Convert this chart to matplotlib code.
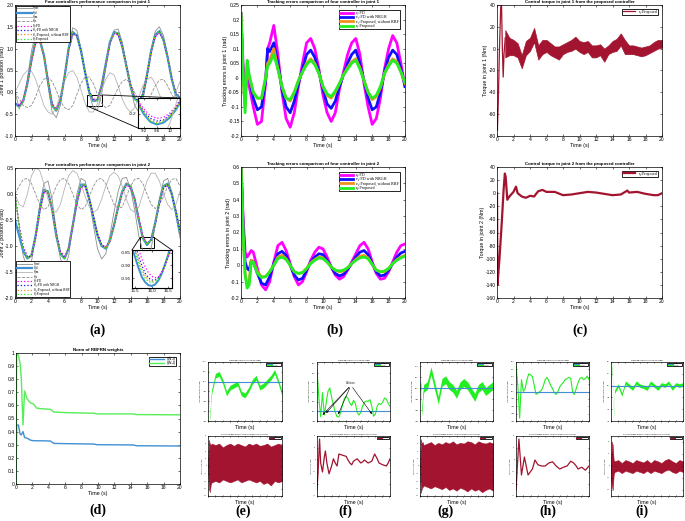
import numpy as np
import matplotlib
matplotlib.use("Agg")
import matplotlib.pyplot as plt
from matplotlib.patches import Rectangle, ConnectionPatch

plt.rcParams["font.family"] = ["Liberation Sans", "DejaVu Sans"]
plt.rcParams["axes.unicode_minus"] = False

# ---------------- data: joint positions (a) ----------------
t_pos = np.arange(0, 20.5, 0.5)

q1_ref = [0.0, -0.35, -0.2, 0.3, 0.95, 1.35, 1.3, 0.85, 0.15, -0.45, -0.58, -0.3, 0.35, 1.05, 1.48, 1.42, 1.0, 0.45,
          -0.05, -0.35, -0.4, -0.05, 0.55, 1.1, 1.42, 1.45, 1.15, 0.65, 0.1, -0.3, -0.45, -0.2, 0.35, 0.95, 1.4, 1.5,
          1.3, 0.85, 0.3, -0.1, -0.25]
q1_d = [-0.25, -0.32, -0.2, 0.2, 0.75, 1.18, 1.2, 0.85, 0.25, -0.3, -0.42, -0.2, 0.35, 1.0, 1.38, 1.3, 0.95, 0.45, 0.0,
        -0.2, -0.18, 0.15, 0.65, 1.15, 1.38, 1.35, 1.05, 0.6, 0.15, -0.15, -0.22, -0.05, 0.4, 0.95, 1.32, 1.4, 1.2, 0.8,
        0.3, -0.05, -0.12]
q1_m = [0.0, 0.2, 0.4, 0.5, 0.48, 0.3, 0.0, -0.3, -0.45, -0.5, -0.35, -0.05, 0.25, 0.45, 0.5, 0.35, 0.05, -0.25, -0.45,
        -0.45, -0.25, 0.05, 0.3, 0.45, 0.4, 0.15, -0.15, -0.35, -0.45, -0.35, -0.1, 0.15, 0.3, 0.35, 0.2, -0.05, -0.25,
        -0.35, -0.25, 0.0, 0.25]
q1_e = [0.0, -0.15, -0.3, -0.35, -0.3, -0.1, 0.15, 0.3, 0.35, 0.25, 0.05, -0.2, -0.35, -0.4, -0.3, -0.05, 0.2, 0.35,
        0.35, 0.2, -0.05, -0.25, -0.35, -0.3, -0.1, 0.1, 0.25, 0.3, 0.2, 0.0, -0.2, -0.3, -0.25, -0.05, 0.15, 0.28, 0.3,
        0.15, -0.05, -0.2, -0.25]
q1_pd = [-0.25, -0.3, -0.15, 0.2, 0.7, 1.12, 1.17, 0.85, 0.28, -0.25, -0.38, -0.18, 0.33, 0.95, 1.33, 1.28, 0.95, 0.47,
         0.03, -0.16, -0.15, 0.15, 0.62, 1.1, 1.33, 1.32, 1.04, 0.62, 0.18, -0.11, -0.19, -0.04, 0.38, 0.9, 1.27, 1.36,
         1.19, 0.81, 0.33, -0.02, -0.1]
q1_nrgh = [-0.25, -0.33, -0.18, 0.2, 0.72, 1.15, 1.19, 0.85, 0.27, -0.27, -0.4, -0.19, 0.34, 0.97, 1.35, 1.29, 0.95,
           0.46, 0.02, -0.18, -0.17, 0.15, 0.63, 1.12, 1.35, 1.33, 1.05, 0.61, 0.17, -0.13, -0.2, -0.05, 0.39, 0.92,
           1.29, 1.38, 1.2, 0.8, 0.32, -0.03, -0.11]
q1_norbf = [-0.25, -0.36, -0.2, 0.2, 0.74, 1.17, 1.2, 0.85, 0.26, -0.29, -0.41, -0.2, 0.35, 0.99, 1.37, 1.3, 0.95,
            0.45, 0.01, -0.19, -0.18, 0.15, 0.64, 1.14, 1.37, 1.34, 1.05, 0.6, 0.16, -0.14, -0.21, -0.05, 0.4, 0.94,
            1.31, 1.39, 1.2, 0.8, 0.31, -0.04, -0.12]
q1_prop = [-0.25, -0.38, -0.2, 0.2, 0.75, 1.18, 1.2, 0.85, 0.25, -0.3, -0.42, -0.2, 0.35, 1.0, 1.38, 1.3, 0.95, 0.45,
           0.0, -0.2, -0.18, 0.15, 0.65, 1.15, 1.38, 1.35, 1.05, 0.6, 0.15, -0.15, -0.22, -0.05, 0.4, 0.95, 1.32, 1.4,
           1.2, 0.8, 0.3, -0.05, -0.12]

# zoomed trough of joint 1
t_in1 = [9.0, 9.2, 9.4, 9.6, 9.8, 10.0, 10.2, 10.4]
in1_d = [-0.13, -0.2, -0.245, -0.26, -0.25, -0.22, -0.17, -0.1]
in1_pd = [-0.11, -0.17, -0.21, -0.225, -0.22, -0.195, -0.15, -0.09]
in1_nrgh = [-0.12, -0.185, -0.225, -0.24, -0.235, -0.205, -0.16, -0.095]
in1_norbf = [-0.125, -0.19, -0.235, -0.25, -0.24, -0.21, -0.165, -0.1]
in1_prop = [-0.13, -0.195, -0.24, -0.255, -0.245, -0.215, -0.17, -0.1]

q2_ref = [0.0, -0.6, -1.2, -1.4, -1.3, -0.8, -0.2, 0.2, 0.25, -0.1, -0.7, -1.25, -1.4, -1.2, -0.6, 0.0, 0.3, 0.25,
          -0.1, -0.6, -1.05, -1.25, -1.15, -0.8, -0.35, 0.05, 0.3, 0.32, 0.1, -0.3, -0.8, -1.1, -1.2, -1.05, -0.6, -0.1,
          0.25, 0.3, 0.05, -0.4, -0.85]
q2_d = [-0.5, -0.8, -1.1, -1.24, -1.18, -0.8, -0.3, 0.08, 0.05, -0.3, -0.8, -1.15, -1.24, -1.05, -0.6, -0.15, 0.18,
        0.18, -0.1, -0.45, -0.8, -1.0, -1.05, -0.9, -0.6, -0.25, 0.05, 0.2, 0.15, -0.1, -0.5, -0.85, -0.98, -0.88,
        -0.55, -0.15, 0.15, 0.2, 0.0, -0.35, -0.75]
q2_m = [0.0, -0.2, -0.25, 0.0, 0.35, 0.5, 0.45, 0.2, -0.1, -0.3, -0.35, -0.2, 0.1, 0.35, 0.45, 0.4, 0.2, -0.05, -0.25,
        -0.35, -0.3, -0.1, 0.15, 0.35, 0.42, 0.35, 0.15, -0.1, -0.3, -0.35, -0.25, 0.0, 0.25, 0.4, 0.4, 0.25, 0.0, -0.2,
        -0.3, -0.2, 0.05]
q2_e = [0.0, 0.15, 0.28, 0.3, 0.2, 0.0, -0.2, -0.3, -0.25, -0.05, 0.15, 0.28, 0.3, 0.2, 0.0, -0.2, -0.3, -0.25, -0.05,
        0.15, 0.28, 0.3, 0.2, 0.0, -0.2, -0.28, -0.25, -0.05, 0.15, 0.28, 0.3, 0.2, 0.0, -0.2, -0.28, -0.2, -0.05, 0.15,
        0.28, 0.3, 0.15]
q2_pd = [0.0, -0.6, -1.0, -1.2, -1.2, -0.85, -0.35, 0.02, 0.02, -0.28, -0.75, -1.1, -1.2, -1.05, -0.62, -0.18, 0.13,
         0.15, -0.08, -0.42, -0.76, -0.97, -1.02, -0.9, -0.62, -0.28, 0.01, 0.16, 0.13, -0.08, -0.45, -0.8, -0.95,
         -0.88, -0.58, -0.2, 0.1, 0.17, 0.0, -0.32, -0.7]
q2_nrgh = [0.0, -0.62, -1.03, -1.22, -1.19, -0.82, -0.32, 0.05, 0.03, -0.29, -0.77, -1.12, -1.22, -1.05, -0.61, -0.17,
           0.15, 0.16, -0.09, -0.43, -0.78, -0.98, -1.03, -0.9, -0.61, -0.27, 0.03, 0.18, 0.14, -0.09, -0.47, -0.82,
           -0.96, -0.88, -0.56, -0.18, 0.12, 0.18, 0.0, -0.33, -0.72]
q2_norbf = [0.0, -0.65, -1.06, -1.23, -1.18, -0.81, -0.31, 0.07, 0.04, -0.3, -0.79, -1.14, -1.23, -1.05, -0.6, -0.16,
            0.17, 0.17, -0.1, -0.44, -0.79, -0.99, -1.04, -0.9, -0.6, -0.26, 0.04, 0.19, 0.15, -0.1, -0.48, -0.84,
            -0.97, -0.88, -0.56, -0.16, 0.14, 0.19, 0.0, -0.34, -0.74]
q2_prop = [0.0, -0.66, -1.07, -1.24, -1.18, -0.8, -0.3, 0.08, 0.05, -0.3, -0.8, -1.15, -1.24, -1.05, -0.6, -0.15, 0.18,
           0.18, -0.1, -0.45, -0.8, -1.0, -1.05, -0.9, -0.6, -0.25, 0.05, 0.2, 0.15, -0.1, -0.5, -0.85, -0.97, -0.88,
           -0.55, -0.15, 0.15, 0.2, 0.0, -0.35, -0.75]

# zoomed trough of joint 2
t_in2 = [15.4, 15.5, 15.6, 15.7, 15.8, 15.9, 16.0, 16.1, 16.2, 16.3, 16.4, 16.5, 16.6]
in2_d = [-0.83, -0.87, -0.91, -0.945, -0.965, -0.977, -0.98, -0.975, -0.96, -0.935, -0.9, -0.86, -0.82]
in2_pd = [-0.74, -0.79, -0.835, -0.875, -0.905, -0.928, -0.942, -0.948, -0.945, -0.93, -0.905, -0.87, -0.835]
in2_nrgh = [-0.77, -0.82, -0.865, -0.9, -0.93, -0.948, -0.957, -0.957, -0.948, -0.93, -0.9, -0.865, -0.83]
in2_norbf = [-0.79, -0.84, -0.88, -0.915, -0.94, -0.955, -0.962, -0.96, -0.95, -0.93, -0.9, -0.865, -0.825]
in2_prop = [-0.8, -0.85, -0.89, -0.925, -0.95, -0.962, -0.967, -0.964, -0.952, -0.93, -0.9, -0.86, -0.82]

# ---------------- data: tracking errors (b) ----------------
t_e1 = [0, 0.25, 0.5, 0.75, 1, 1.5, 2, 2.5, 3, 3.25, 3.5, 4, 4.5, 5, 5.5, 6, 6.5, 7, 7.5, 8, 8.5, 9, 9.5, 10, 10.5,
        11, 11.5, 12, 12.5, 13, 13.5, 14, 14.5, 15, 15.5, 16, 16.5, 17, 17.5, 18, 18.5, 19, 19.5, 20]
e1_pd = [0.22, 0.05, -0.03, 0.0, -0.03, -0.1, -0.16, -0.15, -0.02, 0.1, 0.12, 0.18, 0.08, -0.05, -0.14, -0.17, -0.12,
         -0.03, 0.05, 0.12, 0.135, 0.1, 0.03, -0.06, -0.12, -0.15, -0.12, -0.04, 0.02, 0.08, 0.12, 0.135, 0.08, -0.02,
         -0.1, -0.16, -0.14, -0.07, 0.03, 0.1, 0.145, 0.12, 0.05, -0.03]
e1_nrgh = [0.22, 0.0, -0.05, 0.0, 0.0, -0.07, -0.11, -0.1, -0.01, 0.1, 0.09, 0.12, 0.05, -0.04, -0.1, -0.12, -0.08,
           -0.02, 0.03, 0.08, 0.095, 0.07, 0.02, -0.04, -0.09, -0.105, -0.08, -0.03, 0.01, 0.05, 0.08, 0.095, 0.05,
           -0.01, -0.07, -0.11, -0.1, -0.05, 0.02, 0.07, 0.095, 0.08, 0.03, -0.03]
e1_norbf = [0.22, 0.0, -0.1, 0.05, 0.0, -0.05, -0.07, -0.07, 0.0, 0.05, 0.06, 0.1, 0.03, -0.03, -0.07, -0.08, -0.05,
            -0.01, 0.02, 0.05, 0.065, 0.05, 0.015, -0.03, -0.06, -0.07, -0.05, -0.02, 0.01, 0.035, 0.055, 0.065, 0.035,
            -0.01, -0.05, -0.075, -0.065, -0.035, 0.015, 0.045, 0.065, 0.055, 0.02, -0.02]
e1_prop = [0.22, 0.02, -0.12, 0.06, 0.01, -0.05, -0.07, -0.07, 0.0, 0.04, 0.05, 0.08, 0.03, -0.03, -0.07, -0.075, -0.05,
           -0.01, 0.02, 0.045, 0.06, 0.045, 0.015, -0.03, -0.055, -0.065, -0.045, -0.02, 0.01, 0.03, 0.05, 0.06, 0.03,
           -0.01, -0.05, -0.07, -0.06, -0.03, 0.015, 0.04, 0.06, 0.05, 0.02, -0.015]

t_e2 = [0, 0.25, 0.5, 0.75, 1.0, 1.25, 1.5, 2.0, 2.5, 3.0, 3.5, 4.0, 4.5, 5.0, 5.5, 6.0, 6.5, 7.0, 7.5, 8.0, 8.5, 9.0,
        9.5, 10, 10.5, 11, 11.5, 12, 12.5, 13, 13.5, 14, 14.5, 15, 15.5, 16, 16.5, 17, 17.5, 18, 18.5, 19, 19.5, 20]
e2_pd = [0.62, 0.3, 0.08, 0.05, 0.07, 0.09, 0.08, -0.02, -0.12, -0.15, -0.1, 0.02, 0.12, 0.14, 0.09, 0.01, -0.07,
         -0.12, -0.1, -0.04, 0.03, 0.08, 0.11, 0.1, 0.05, -0.01, -0.06, -0.085, -0.07, -0.03, 0.02, 0.07, 0.12, 0.14,
         0.1, 0.02, -0.05, -0.085, -0.08, -0.04, 0.02, 0.08, 0.12, 0.13]
e2_nrgh = [0.62, 0.25, 0.02, -0.02, -0.03, 0.03, 0.02, -0.05, -0.11, -0.12, -0.07, 0.01, 0.07, 0.085, 0.06, 0.0, -0.06,
           -0.09, -0.08, -0.03, 0.02, 0.05, 0.07, 0.065, 0.03, -0.01, -0.05, -0.065, -0.055, -0.025, 0.01, 0.05, 0.08,
           0.09, 0.065, 0.01, -0.04, -0.065, -0.06, -0.03, 0.01, 0.05, 0.075, 0.085]
e2_norbf = [0.62, 0.2, -0.05, -0.12, -0.1, 0.03, 0.02, -0.04, -0.07, -0.07, -0.04, 0.0, 0.05, 0.06, 0.04, 0.0, -0.04,
            -0.05, -0.045, -0.02, 0.015, 0.035, 0.05, 0.045, 0.02, -0.01, -0.03, -0.04, -0.035, -0.015, 0.01, 0.035,
            0.055, 0.06, 0.045, 0.005, -0.03, -0.04, -0.04, -0.02, 0.01, 0.035, 0.05, 0.06]
e2_prop = [0.62, 0.2, -0.06, -0.14, -0.12, 0.02, 0.02, -0.05, -0.075, -0.07, -0.04, 0.0, 0.04, 0.05, 0.035, 0.0, -0.04,
           -0.05, -0.045, -0.02, 0.01, 0.03, 0.045, 0.04, 0.02, -0.01, -0.03, -0.035, -0.03, -0.015, 0.01, 0.03, 0.045,
           0.05, 0.04, 0.005, -0.03, -0.04, -0.035, -0.02, 0.01, 0.03, 0.045, 0.055]

# ---------------- data: control torques (c) ----------------
t_tq1_start = [0, 0.05, 0.15, 0.3, 0.45, 0.55, 0.65, 0.75, 0.85, 1.0]
tq1_start = [-55, -75, -50, 0, 38, 40, 0, -26, -5, 10]
t_tq1 = np.arange(1, 20.5, 0.5)
tq1_hi = [17, 10, 8, 5, -6, 7, 10, 19, 3, 8, 8, 5, 2, 2, 4, 6, 8, 11, 7, 6, 7, 3, 3, 4, 0, 3, 7, 9, 14, 8, 3, 3, 2, 1,
          2, 3, 6, 8, 8]
tq1_lo = [-8, -6, -6, -8, -18, -6, -2, 6, -10, -5, -3, -6, -8, -10, -5, -3, -2, 0, -3, -5, -3, -8, -8, -6, -12, -5, -3,
          -2, 3, -5, -5, -5, -6, -7, -6, -4, -2, 0, 1]

t_tq2 = [0, 0.05, 0.3, 0.6, 0.8, 0.95, 1.05, 1.25, 1.5, 2.0, 2.3, 2.5, 3.0, 3.5, 4.0, 4.5, 4.8, 5.0, 5.5, 6, 7, 8, 9,
         10, 11, 12, 13, 14, 15, 15.8, 16, 17, 18, 19, 19.5, 20]
tq2 = [0, -140, -100, -40, 5, 30, 25, -10, -5, 2, 10, 0, -5, -7, -4, -5, 0, 3, 5, 2, 2, -3, -2, 0, 2, 1, -1, -3, -2, 4,
       1, 2, -1, -3, -3, 0]

# ---------------- data: weight norms (d) ----------------
t_w = [0, 0.08, 0.3, 0.5, 0.65, 0.85, 1.05, 1.35, 1.75, 2.15, 2.5, 3.0, 4.2, 4.6, 6.0, 9.5, 9.85, 14.3, 14.7, 20]
w1_norm = [0, 0.45, 0.45, 0.38, 0.375, 0.40, 0.355, 0.35, 0.335, 0.33, 0.33, 0.33, 0.328, 0.31, 0.308, 0.305, 0.3,
           0.298, 0.292, 0.29]
w2_norm = [0, 1.0, 0.98, 0.92, 0.8, 0.45, 0.71, 0.65, 0.62, 0.61, 0.58, 0.575, 0.57, 0.55, 0.545, 0.54, 0.535, 0.535,
           0.53, 0.528]

# ---------------- data: small panels (e)-(i) ----------------
t_s = [0, 0.25, 0.5, 0.75, 1, 2, 3, 4, 5, 6, 7, 8, 9, 10, 11, 12, 13, 14, 15, 16, 17, 18, 19, 20]
t_h = np.arange(0, 20.5, 0.5)

e_err = [0.07, -0.05, -0.19, -0.1, -0.05, 0.03, 0.04, 0.0, -0.06, -0.03, -0.02, -0.01, -0.06, -0.07, -0.04, 0.0,
         0.02, -0.03, -0.02, 0.0, 0.02, 0.05, 0.0, -0.06]
e_tq_hi = [0, 35, 30, 28, 30, 28, 30, 25, 28, 30, 27, 30, 28, 26, 30, 28, 30, 27, 28, 30, 26, 28, 30, 28]
e_tq_lo = [0, -30, -35, -25, -22, -20, -22, -18, -20, -22, -20, -18, -22, -20, -18, -20, -22, -20, -24, -22, -26, -20,
           -22, -20]

f_err = [0.223, 0.074, -0.028, 0.099, -0.019, 0.043, 0.105, 0.124, 0.074, 0.034, -0.004, -0.028, -0.028, -0.004,
         0.037, 0.068, 0.080, 0.068, 0.043, 0.031, 0.059, 0.043, -0.004, -0.019, -0.004, 0.028, 0.049, 0.055, 0.052,
         0.062, 0.028, -0.025, -0.013, 0.028, 0.043, 0.037, 0.049, 0.071, 0.065, 0.043, 0.028]
collision_t = [1.0, 2.0, 5.5, 15.5]
t_f_tq = [0, 0.3, 0.7, 1.0, 1.5, 2.0, 2.3, 2.7, 3.3, 4.0, 4.5, 5.0, 5.5, 6.0, 7.0, 8.0, 8.5, 9.0, 9.5, 10, 11, 12,
          12.5, 13, 14, 15, 15.8, 16.5, 17, 18, 19, 19.5, 20]
f_tq = [-50, -20, 35, -5, -20, 5, 15, -5, -23, -10, 2, -5, -10, 10, 8, 6, 0, -5, -8, -2, 2, -5, -3, 0, -5, -2, 10, 2,
        -5, -8, -10, -5, 2]

g_err = [0.0, 0.012, -0.11, -0.042, -0.001, 0.012, 0.08, 0.012, -0.055, 0.026, 0.039, 0.012, -0.001, -0.028, 0.012,
         0.026, 0.012, -0.015, -0.042, -0.001, 0.012, -0.015, -0.001, 0.012]
g_tq_hi = [0, 36, 30, 32, 28, 30, 32, 28, 31, 29, 32, 30, 33, 29, 31, 30, 33, 32, 29, 33, 31, 30, 32, 30]
g_tq_lo = [0, -36, -30, -28, -26, -28, -30, -27, -29, -31, -28, -32, -30, -33, -29, -31, -34, -30, -33, -31, -35, -32,
           -30, -33]

h_err = [0.18, 0.04, -0.18, 0.08, 0.0, 0.02, 0.08, 0.12, 0.112, 0.1, 0.04, -0.02, -0.012, 0.0, 0.008, 0.04, 0.08,
         0.096, 0.072, 0.04, 0.02, -0.008, -0.02, 0.0, 0.032, 0.048, 0.064, 0.08, 0.088, 0.096, 0.088, 0.0, -0.02, 0.02,
         0.06, 0.088, 0.096, 0.08, 0.088, 0.104, 0.08]
t_h_tq = [0, 0.8, 1.5, 2.3, 3.3, 4.5, 5.2, 6, 7, 8, 9, 10, 11, 12, 13, 14, 15, 15.8, 16.5, 17, 18, 19, 20]
h_tq = [-50, 35, -25, 5, -25, -15, 0, -8, -10, -10, -5, -3, -10, -15, -12, -10, -2, -5, -10, -15, -12, -17, -10]

i_err = [0.0, 0.175, 0.0, -0.25, -0.05, 0.0, -0.075, 0.025, 0.0, -0.025, 0.025, 0.0, -0.01, -0.025, 0.025, 0.0,
         -0.025, 0.01, 0.0, 0.025, -0.025, 0.01, 0.0, 0.01]
i_tq_hi = [0, 40, 35, 10, 8, 10, 5, 10, 8, 5, 10, 8, 6, 10, 5, 10, 8, 5, 10, 12, 8, 5, 10, 8]
i_tq_lo = [-20, -35, -40, -15, -10, -8, -12, -8, -10, -12, -8, -10, -12, -8, -12, -8, -10, -12, -8, -6, -10, -12, -8,
           -10]

# ---------------- style ----------------
W, H = 685, 521
C_D = "#3E8FD3"
GRAY = "#8E8E8E"
LGRAY = "#B4B4B4"
C_PD = "#FF00FF"
C_NR = "#1010FF"
C_OR = "#F0901E"
C_GR = "#22EE22"
C_TQ = "#A2142F"
TFS = 3.2   # title size
LFS = 3.8   # axis label size
KFS = 3.6   # tick label size
SERIF = ["Liberation Serif", "DejaVu Serif"]


def rect(l, t, r, b):
    return [l / W, 1 - b / H, (r - l) / W, (b - t) / H]


def style(ax, fs=KFS, lw=0.5, tl=1.6):
    ax.tick_params(direction="in", length=tl, width=0.4, labelsize=fs, pad=0.9, top=True, right=True)
    for s in ax.spines.values():
        s.set_linewidth(lw)


def box_legend(ax, fs, family=None, **kw):
    prop = {"size": fs}
    if family:
        prop["family"] = family
    leg = ax.legend(prop=prop, fancybox=False, framealpha=1, edgecolor="k", **kw)
    leg.get_frame().set_linewidth(0.6)
    return leg


def labels(ax, title, ylabel=None):
    ax.set_title(title, fontsize=TFS, fontweight="bold", pad=1.2)
    ax.set_xlabel("Time (s)", fontsize=LFS, labelpad=0.8)
    if ylabel:
        ax.set_ylabel(ylabel, fontsize=LFS, labelpad=0.3)


fig = plt.figure(figsize=(W / 100, H / 100), dpi=100)

# ---------- (a) joint 1 ----------
ax = fig.add_axes(rect(15, 5, 180, 136))
ax.plot(t_pos, q1_ref, color=GRAY, lw=0.6, label="θ₁ref")
ax.plot(t_pos, q1_d, color=C_D, lw=1.6, label="θ₁d")
ax.plot(t_pos, q1_m, color=LGRAY, lw=0.6, label="θ₁m")
ax.plot(t_pos, q1_e, color=GRAY, lw=0.6, ls="--", label="θ₁e")
ax.plot(t_pos, q1_pd, color=C_PD, lw=0.9, ls=":", label="θ₁:PD")
ax.plot(t_pos, q1_nrgh, color=C_NR, lw=0.9, ls=":", label="θ₁:PD with NRGH")
ax.plot(t_pos, q1_norbf, color=C_OR, lw=0.9, ls=":", label="θ₁:Proposed, without RBF")
ax.plot(t_pos, q1_prop, color=C_GR, lw=0.9, ls=":", label="θ₁:Proposed")
ax.set_xlim(0, 20)
ax.set_ylim(-1, 2)
ax.set_xticks(range(0, 21, 2))
ax.set_yticks(np.arange(-1, 2.01, 0.5))
labels(ax, "Four controllers performance comparison in joint 1", "Joint 1 position (rad)")
style(ax)
box_legend(ax, 2.4, SERIF, loc="upper left", handlelength=4.5, labelspacing=0.1, borderpad=0.25,
           handleheight=0.5, handletextpad=0.5, borderaxespad=0.2)

axin = ax.inset_axes([0.745, 0.061, 0.255, 0.229])
axin.plot(t_in1, in1_d, color=C_D, lw=1.4)
axin.plot(t_in1, in1_pd, color=C_PD, lw=0.9, ls=":")
axin.plot(t_in1, in1_nrgh, color=C_NR, lw=0.9, ls=":")
axin.plot(t_in1, in1_norbf, color=C_OR, lw=0.9, ls=":")
axin.plot(t_in1, in1_prop, color=C_GR, lw=0.9, ls=":")
axin.plot(t_pos, q1_m, color=LGRAY, lw=0.6)
axin.set_xlim(9.03, 10.3)
axin.set_ylim(-0.28, -0.11)
axin.set_xticks([9.2, 9.6, 10])
axin.set_xticklabels(["9.2", "9.6", "10"])
axin.set_yticks([-0.2])
style(axin, fs=3.2, lw=0.8)
ax.add_patch(Rectangle((8.7, -0.31), 1.9, 0.25, fill=False, ec="k", lw=0.7))
for xa, xb in [((10.6, -0.06), (1, 1)), ((8.7, -0.31), (0, 0))]:
    con = ConnectionPatch(xyA=xa, coordsA=ax.transData, xyB=xb, coordsB=axin.transAxes, color="k", lw=0.6)
    fig.add_artist(con)

# ---------- (a) joint 2 ----------
ax = fig.add_axes(rect(15, 168, 180, 298))
ax.plot(t_pos, q2_ref, color=GRAY, lw=0.6, label="θ₂ref")
ax.plot(t_pos, q2_d, color=C_D, lw=1.6, label="θ₂d")
ax.plot(t_pos, q2_m, color=LGRAY, lw=0.6, label="θ₂m")
ax.plot(t_pos, q2_e, color=GRAY, lw=0.6, ls="--", label="θ₂e")
ax.plot(t_pos, q2_pd, color=C_PD, lw=0.9, ls=":", label="θ₂:PD")
ax.plot(t_pos, q2_nrgh, color=C_NR, lw=0.9, ls=":", label="θ₂:PD with NRGH")
ax.plot(t_pos, q2_norbf, color=C_OR, lw=0.9, ls=":", label="θ₂:Proposed, without RBF")
ax.plot(t_pos, q2_prop, color=C_GR, lw=0.9, ls=":", label="θ₂:Proposed")
ax.set_xlim(0, 20)
ax.set_ylim(-2, 0.5)
ax.set_xticks(range(0, 21, 2))
ax.set_yticks(np.arange(-2, 0.51, 0.5))
labels(ax, "Four controllers performance comparison in joint 2", "Joint 2 position (rad)")
style(ax)
box_legend(ax, 2.4, SERIF, loc="lower left", handlelength=4.5, labelspacing=0.1, borderpad=0.25,
           handleheight=0.5, handletextpad=0.5, borderaxespad=0.3)

axin = ax.inset_axes([0.709, 0.077, 0.242, 0.292])
axin.plot(t_in2, in2_d, color=C_D, lw=1.4)
axin.plot(t_in2, in2_pd, color=C_PD, lw=0.9, ls=":")
axin.plot(t_in2, in2_nrgh, color=C_NR, lw=0.9, ls=":")
axin.plot(t_in2, in2_norbf, color=C_OR, lw=0.9, ls=":")
axin.plot(t_in2, in2_prop, color=C_GR, lw=0.9, ls=":")
axin.set_xlim(15.4, 16.62)
axin.set_ylim(-0.988, -0.84)
axin.set_xticks([15.5, 16, 16.5])
axin.set_yticks([-0.85, -0.9, -0.95])
style(axin, fs=3.2, lw=0.8)
ax.add_patch(Rectangle((15.2, -1.03), 1.6, 0.2, fill=False, ec="k", lw=0.7))
for xa, xb in [((15.2, -0.83), (0, 1)), ((16.8, -0.83), (1, 1))]:
    con = ConnectionPatch(xyA=xa, coordsA=ax.transData, xyB=xb, coordsB=axin.transAxes, color="k", lw=0.6)
    fig.add_artist(con)

# ---------- (b) errors ----------
sub = {1: "₁", 2: "₂"}
for pos, tt, series, ylim, yt, j in [
    ((241, 5, 405, 136), t_e1, (e1_pd, e1_nrgh, e1_norbf, e1_prop), (-0.2, 0.25), np.arange(-0.2, 0.26, 0.05), 1),
    ((241, 167, 405, 298), t_e2, (e2_pd, e2_nrgh, e2_norbf, e2_prop), (-0.2, 0.6), np.arange(-0.2, 0.61, 0.1), 2),
]:
    ax = fig.add_axes(rect(*pos))
    labs = ["e%s:PD" % sub[j], "e%s:PD with NRGH" % sub[j], "e%s:Proposed, without RBF" % sub[j],
            "e%s:Proposed" % sub[j]]
    for s, c, lab in zip(series, (C_PD, C_NR, C_OR, C_GR), labs):
        ax.plot(tt, s, color=c, lw=2.0, label=lab)
    ax.set_xlim(0, 20)
    ax.set_ylim(*ylim)
    ax.set_xticks(range(0, 21, 2))
    ax.set_yticks(yt)
    ax.set_yticklabels(["%g" % round(v, 2) for v in yt])
    labels(ax, "Tracking errors comparison of four controller in joint %d" % j,
           "Tracking errors in joint %d (rad)" % j)
    style(ax)
    box_legend(ax, 3.0, SERIF, loc="upper right", handlelength=3.2, labelspacing=0.1, borderpad=0.25,
               handleheight=0.6, borderaxespad=1.2)

# ---------- (c) torques ----------
ax = fig.add_axes(rect(497, 5, 662, 136))
ax.plot(t_tq1_start, tq1_start, color=C_TQ, lw=0.9, label="τ₁:Proposed")
ax.fill_between(t_tq1, tq1_lo, tq1_hi, color=C_TQ, lw=0.5, ec=C_TQ)
ax.set_xlim(0, 20)
ax.set_ylim(-80, 40)
ax.set_xticks(range(0, 21, 2))
ax.set_yticks(range(-80, 41, 20))
labels(ax, "Control torque in joint 1 from the proposed controller", "Torque in joint 1 (Nm)")
style(ax)
box_legend(ax, 2.9, SERIF, loc="upper right", handlelength=3.2, borderpad=0.25, borderaxespad=0.9)

ax = fig.add_axes(rect(497, 167, 662, 298))
ax.plot(t_tq2, tq2, color=C_TQ, lw=1.6, label="τ₂:Proposed")
ax.set_xlim(0, 20)
ax.set_ylim(-160, 40)
ax.set_xticks(range(0, 21, 2))
ax.set_yticks(range(-160, 41, 20))
labels(ax, "Control torque in joint 2 from the proposed controller", "Torque in joint 2 (Nm)")
style(ax)
box_legend(ax, 2.9, SERIF, loc="upper right", handlelength=3.2, borderpad=0.25, borderaxespad=0.9)

# ---------- (d) weights ----------
ax = fig.add_axes(rect(16, 353, 180, 484))
ax.plot(t_w, w1_norm, color=C_D, lw=1.0, label="‖Ŵ₁‖")
ax.plot(t_w, w2_norm, color="#55EE55", lw=1.0, label="‖Ŵ₂‖")
ax.set_xlim(0, 20)
ax.set_ylim(0, 1)
ax.set_xticks(range(0, 21, 2))
ax.set_yticks(np.arange(0, 1.01, 0.1))
ax.set_yticklabels(["%g" % round(v, 1) for v in np.arange(0, 1.01, 0.1)])
labels(ax, "Norm of RBFRN weights")
style(ax)
box_legend(ax, 2.6, ["DejaVu Sans"], loc="upper right", handlelength=4, labelspacing=0.05, borderpad=0.2,
           borderaxespad=1.0)

# ---------- (e)-(i) small panels ----------
small_x = [(208, 282), (317, 390), (420, 493), (516, 589), (611, 683)]
for k, (l, r) in enumerate(small_x):
    at = fig.add_axes(rect(l, 362, r, 421))
    ab = fig.add_axes(rect(l, 436, r, 496))
    if k == 0:
        at.fill_between(t_s, np.array(e_err) - 0.012, np.array(e_err) + 0.012, color=C_GR, lw=0)
        at.set_ylim(-0.2, 0.1)
        ab.fill_between(t_s, e_tq_lo, e_tq_hi, color=C_TQ, lw=0.3, ec=C_TQ)
        ab.set_ylim(-40, 40)
    elif k == 1:
        at.plot(t_h, f_err, color=C_GR, lw=0.8)
        at.set_ylim(-0.05, 0.26)
        at.text(9.3, 0.142, "Collision", fontsize=1.8, ha="center")
        for ct in collision_t:
            iy = f_err[int(np.searchsorted(t_h, ct))]
            at.annotate("", xy=(ct, iy), xytext=(9.3, 0.138),
                        arrowprops=dict(arrowstyle="-|>", lw=0.4, color="k", mutation_scale=3))
        ab.plot(t_f_tq, f_tq, color=C_TQ, lw=0.9)
        ab.set_ylim(-60, 40)
    elif k == 2:
        at.fill_between(t_s, np.array(g_err) - 0.018, np.array(g_err) + 0.018, color=C_GR, lw=0)
        at.set_ylim(-0.15, 0.12)
        ab.fill_between(t_s, g_tq_lo, g_tq_hi, color=C_TQ, lw=0.3, ec=C_TQ)
        ab.set_ylim(-40, 40)
    elif k == 3:
        at.plot(t_h, h_err, color=C_GR, lw=0.8)
        at.set_ylim(-0.2, 0.2)
        ab.plot(t_h_tq, h_tq, color=C_TQ, lw=0.9)
        ab.set_ylim(-60, 40)
    else:
        at.fill_between(t_s, np.array(i_err) - 0.015, np.array(i_err) + 0.015, color=C_GR, lw=0)
        at.set_ylim(-0.3, 0.2)
        ab.fill_between(t_s, i_tq_lo, i_tq_hi, color=C_TQ, lw=0.3, ec=C_TQ)
        ab.set_ylim(-50, 50)
    at.axhline(0, color=C_D, lw=0.8, label="Reference")
    at.plot([], [], color=C_GR, lw=0.8, label="Actual")
    ab.plot([], [], color=C_TQ, lw=0.8, label="Torque")
    for a, ttl in [(at, "Tracking joint position of the robot"),
                   (ab, "Control torque of joint from the proposed controller")]:
        a.set_xlim(0, 20)
        a.set_xticks(range(0, 21, 2))
        a.set_title(ttl, fontsize=1.5, pad=1)
        a.set_xlabel("Time (s)", fontsize=LFS, labelpad=1)
        style(a, fs=1.3, lw=0.5, tl=1)
        box_legend(a, 1.2, loc="upper right", handlelength=3, borderpad=0.3, labelspacing=0.1)
    at.set_ylabel("Tracking error of joint (rad)", fontsize=1.4, labelpad=1)
    ab.set_ylabel("Torque in joint (Nm)", fontsize=1.4, labelpad=1)

# panel letters
for txt, x, y in [("(a)", 98, 330), ("(b)", 335, 330), ("(c)", 580, 330), ("(d)", 98, 510),
                  ("(e)", 243, 511), ("(f)", 345, 511), ("(g)", 445, 511), ("(h)", 548, 511), ("(i)", 642, 511)]:
    fig.text(x / W, 1 - y / H, txt, fontsize=10, fontweight="bold", family="Liberation Serif",
             ha="center", va="center")

fig.savefig("out.png", dpi=100)
